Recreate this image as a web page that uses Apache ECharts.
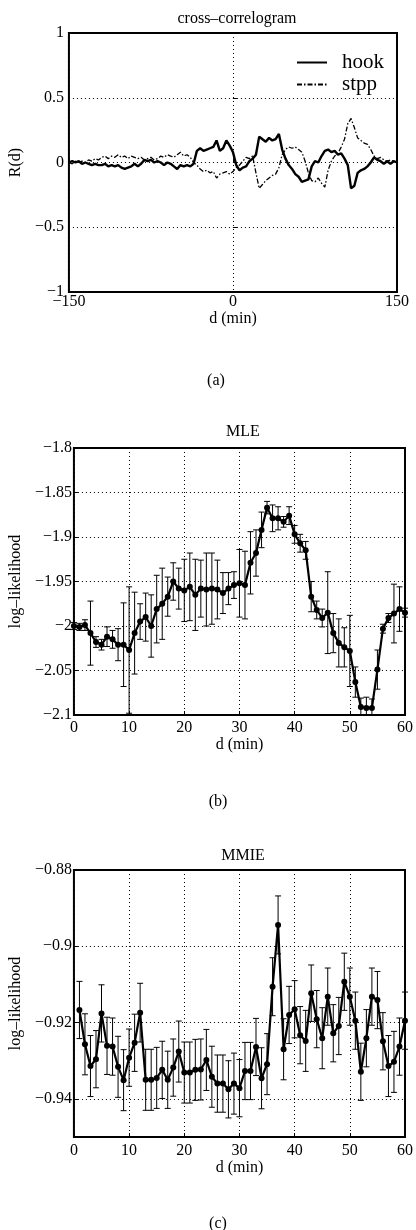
<!DOCTYPE html>
<html><head><meta charset="utf-8">
<script src="https://cdn.jsdelivr.net/npm/echarts@6/dist/echarts.min.js"></script>
<style>html,body{margin:0;padding:0;background:#fff}#c{width:416px;height:1230px}</style>
</head><body><div id="c"></div>
<script>
// ---------- panel (a) cross-correlogram, lag step 3 min from -150 to 150 ----------
const lagStart = -150, lagStep = 3;
const hookR = [0.00,0.01,0.00,0.01,-0.01,0.00,-0.01,-0.02,-0.01,-0.02,
  -0.02,-0.01,-0.03,-0.02,-0.03,-0.02,-0.04,-0.05,-0.04,-0.03,
  -0.01,-0.03,-0.01,0.02,0.01,0.02,0.00,0.01,0.00,-0.02,
  0.00,-0.01,-0.03,-0.05,-0.02,-0.03,-0.02,-0.03,-0.01,0.09,
  0.11,0.09,0.10,0.11,0.12,0.17,0.09,0.11,0.17,0.13,
  0.08,-0.02,-0.06,-0.04,-0.03,0.01,0.03,0.06,0.20,0.18,
  0.16,0.19,0.17,0.18,0.22,0.10,0.03,-0.02,-0.05,-0.09,
  -0.11,-0.15,-0.14,-0.13,-0.03,0.01,0.00,0.05,0.09,0.10,
  0.08,0.09,0.06,0.07,0.03,-0.02,-0.20,-0.18,-0.08,-0.06,
  -0.05,-0.03,0.00,0.04,0.02,0.01,-0.01,0.01,-0.01,0.01,0.00];
const stppR = [0.00,-0.01,0.01,0.00,0.01,0.00,0.02,0.01,0.03,0.02,
  0.04,0.05,0.03,0.05,0.04,0.06,0.04,0.05,0.03,0.05,
  0.04,0.03,0.04,0.02,0.03,0.04,0.02,0.03,0.05,0.04,
  0.06,0.05,0.04,0.06,0.08,0.05,0.06,0.04,0.00,-0.02,
  -0.05,-0.07,-0.06,-0.08,-0.07,-0.12,-0.09,-0.08,-0.07,-0.09,
  -0.07,-0.04,-0.02,0.01,0.04,0.03,0.05,-0.08,-0.20,-0.17,
  -0.14,-0.12,-0.10,-0.09,-0.04,0.06,0.10,0.12,0.11,0.12,
  0.10,0.08,0.01,-0.08,-0.14,-0.15,-0.12,-0.16,-0.19,-0.06,
  0.01,0.05,0.07,0.12,0.18,0.30,0.34,0.27,0.19,0.17,
  0.15,0.14,0.10,0.05,0.03,0.04,0.02,0.01,0.02,0.01,0.00];

// ---------- panel (b) MLE, d = 0..60 ----------
const mleStart = 0;
const mleV = [-2.000,-2.001,-1.999,-2.008,-2.018,-2.021,-2.012,-2.015,-2.021,-2.021,
  -2.027,-2.008,-1.995,-1.990,-2.000,-1.981,-1.975,-1.967,-1.950,-1.958,
  -1.960,-1.956,-1.965,-1.958,-1.959,-1.958,-1.959,-1.963,-1.958,-1.954,
  -1.952,-1.954,-1.929,-1.918,-1.892,-1.867,-1.879,-1.879,-1.883,-1.876,
  -1.897,-1.907,-1.915,-1.967,-1.982,-1.991,-1.985,-2.008,-2.019,-2.024,
  -2.028,-2.063,-2.091,-2.092,-2.092,-2.049,-2.003,-1.991,-1.986,-1.981,-1.985];
const mleE = [0.004,0.004,0.006,0.036,0.006,0.006,0.011,0.010,0.018,0.047,
  0.071,0.046,0.020,0.027,0.035,0.038,0.040,0.022,0.021,0.023,
  0.035,0.038,0.040,0.032,0.041,0.040,0.033,0.023,0.018,0.015,
  0.038,0.038,0.035,0.026,0.020,0.007,0.015,0.013,0.006,0.010,
  0.010,0.010,0.010,0.017,0.010,0.010,0.046,0.022,0.027,0.022,
  0.040,0.017,0.010,0.012,0.010,0.022,0.005,0.005,0.033,0.025,0.005];

// ---------- panel (c) MMIE, d = 1..60 ----------
const mmieStart = 1;
const mmieV = [-0.9167,-0.9257,-0.9314,-0.9296,-0.9176,-0.9261,-0.9263,-0.9316,-0.9351,-0.9292,
  -0.9253,-0.9174,-0.9350,-0.9350,-0.9345,-0.9324,-0.9350,-0.9318,-0.9276,-0.9331,
  -0.9331,-0.9324,-0.9323,-0.9298,-0.9342,-0.9360,-0.9360,-0.9375,-0.9360,-0.9372,
  -0.9327,-0.9327,-0.9264,-0.9346,-0.9309,-0.9106,-0.8944,-0.9270,-0.9180,-0.9165,
  -0.9233,-0.9248,-0.9123,-0.9191,-0.9241,-0.9132,-0.9228,-0.9209,-0.9093,-0.9132,
  -0.9195,-0.9329,-0.9241,-0.9132,-0.9141,-0.9249,-0.9314,-0.9303,-0.9263,-0.9195];
const mmieE = [0.0075,0.0080,0.0080,0.0075,0.0075,0.0075,0.0075,0.0080,0.0080,0.0075,
  0.0075,0.0077,0.0080,0.0080,0.0080,0.0075,0.0075,0.0075,0.0080,0.0080,
  0.0080,0.0080,0.0080,0.0080,0.0080,0.0075,0.0075,0.0075,0.0080,0.0075,
  0.0075,0.0075,0.0075,0.0080,0.0080,0.0076,0.0076,0.0080,0.0075,0.0075,
  0.0075,0.0080,0.0074,0.0075,0.0080,0.0075,0.0075,0.0075,0.0075,0.0075,
  0.0075,0.0075,0.0075,0.0075,0.0075,0.0075,0.0080,0.0080,0.0075,0.0075];
const mmieYTicks = [-0.94, -0.92, -0.9, -0.88];

// ---------- build ----------
function seq(start, step, n){ const a=[]; for(let i=0;i<n;i++) a.push(start+i*step); return a; }
const lagA = seq(lagStart, lagStep, hookR.length);
const mleD = seq(mleStart, 1, mleV.length);
const mmieD = seq(mmieStart, 1, mmieV.length);

const FONT = 'Liberation Serif';
const minus = v => String(+(+v).toFixed(4)).replace('-', '\u2212');

function errData(d, v, e){ return d.map((x,i)=>[x, v[i]-e[i], v[i]+e[i]]); }
function errRender(params, api){
  const cs = params.coordSys;
  const x = api.value(0);
  const lo = api.coord([x, api.value(1)]);
  const hi = api.coord([x, api.value(2)]);
  const clamp = y => Math.max(cs.y, Math.min(cs.y + cs.height, y));
  const y1 = clamp(lo[1]), y2 = clamp(hi[1]);
  const w = 3;
  const st = {stroke:'#000', lineWidth:1};
  const kids = [{type:'line', shape:{x1:lo[0], y1:y1, x2:lo[0], y2:y2}, style:st}];
  if (lo[1] <= cs.y + cs.height) kids.push({type:'line', shape:{x1:lo[0]-w, y1:lo[1], x2:lo[0]+w, y2:lo[1]}, style:st});
  if (hi[1] >= cs.y) kids.push({type:'line', shape:{x1:hi[0]-w, y1:hi[1], x2:hi[0]+w, y2:hi[1]}, style:st});
  return {type:'group', children:kids};
}

const grids = [
  {left:68, right:19, top:33, height:259},
  {left:70, right:10, top:448, height:267},
  {left:71, right:9, top:870, height:267}
].map(g => Object.assign({show:true, borderColor:'#000', borderWidth:2, backgroundColor:'transparent'}, g));

const axisCommon = {
  axisLine:{show:false},
  axisTick:{show:true, inside:true, length:4, lineStyle:{color:'#000'}},
  splitLine:{show:true, lineStyle:{color:'#000', type:[1,3], width:1}},
  nameTextStyle:{fontFamily:FONT, fontSize:16, color:'#000'},
  nameLocation:'middle'
};
const lab = (m, extra) => Object.assign({fontFamily:FONT, fontSize:16, color:'#000', margin:m, formatter:minus}, extra||{});

const xAxes = [
  Object.assign({}, axisCommon, {gridIndex:0, type:'value', min:-150, max:150, interval:150, name:'d (min)', nameGap:19, axisLabel:lab(2)}),
  Object.assign({}, axisCommon, {gridIndex:1, type:'value', min:0, max:60, interval:10, name:'d (min)', nameGap:22, axisLabel:lab(5)}),
  Object.assign({}, axisCommon, {gridIndex:2, type:'value', min:0, max:60, interval:10, name:'d (min)', nameGap:21, axisLabel:lab(6)})
];
const yAxes = [
  Object.assign({}, axisCommon, {gridIndex:0, type:'value', min:-1, max:1, interval:0.5, name:'R(d)', nameGap:35, axisLabel:lab(5)}),
  Object.assign({}, axisCommon, {gridIndex:1, type:'value', min:-2.1, max:-1.8, interval:0.05, name:'log\u2013likelihood', nameGap:46, axisLabel:lab(2)}),
  Object.assign({}, axisCommon, {gridIndex:2, type:'value', min:-0.95, max:-0.88, name:'log\u2013likelihood', nameGap:46,
    axisTick:{show:true, inside:true, length:4, lineStyle:{color:'#000'}, customValues:mmieYTicks},
    axisLabel:lab(2, {customValues:mmieYTicks})})
];

const titleStyle = {fontFamily:FONT, fontSize:16, fontWeight:'normal', color:'#000'};
const option = {
  animation:false,
  backgroundColor:'#fff',
  title:[
    {text:'cross\u2013correlogram', left:232, top:6, textAlign:'center', textStyle:titleStyle},
    {text:'MLE', left:238, top:419, textAlign:'center', textStyle:titleStyle},
    {text:'MMIE', left:238, top:843, textAlign:'center', textStyle:titleStyle},
    {text:'(a)', left:211, top:368, textAlign:'center', textStyle:titleStyle},
    {text:'(b)', left:213, top:789, textAlign:'center', textStyle:titleStyle},
    {text:'(c)', left:213, top:1211, textAlign:'center', textStyle:titleStyle}
  ],
  legend:{data:['hook','stpp'], orient:'vertical', left:291, top:47, itemWidth:30, itemHeight:12, itemGap:1,
    itemStyle:{opacity:0},
    textStyle:{fontFamily:FONT, fontSize:21, lineHeight:16, color:'#000', padding:[0,0,0,10]}},
  grid:grids,
  xAxis:xAxes,
  yAxis:yAxes,
  series:[
    {name:'hook', type:'line', xAxisIndex:0, yAxisIndex:0, data:lagA.map((d,i)=>[d,hookR[i]]), symbol:'none',
      lineStyle:{color:'#000', width:2.4}, itemStyle:{color:'#000'}},
    {name:'stpp', type:'line', xAxisIndex:0, yAxisIndex:0, data:lagA.map((d,i)=>[d,stppR[i]]), symbol:'none',
      lineStyle:{color:'#000', width:1.3, type:[5,2,1.5,2]}, itemStyle:{color:'#000'}},
    {type:'custom', xAxisIndex:1, yAxisIndex:1, data:errData(mleD, mleV, mleE), renderItem:errRender, encode:{x:0, y:[1,2]}, z:3},
    {type:'line', xAxisIndex:1, yAxisIndex:1, data:mleD.map((d,i)=>[d,mleV[i]]), symbol:'circle', symbolSize:6,
      lineStyle:{color:'#000', width:2.2}, itemStyle:{color:'#000'}, z:4},
    {type:'custom', xAxisIndex:2, yAxisIndex:2, data:errData(mmieD, mmieV, mmieE), renderItem:errRender, encode:{x:0, y:[1,2]}, z:3},
    {type:'line', xAxisIndex:2, yAxisIndex:2, data:mmieD.map((d,i)=>[d,mmieV[i]]), symbol:'circle', symbolSize:6,
      lineStyle:{color:'#000', width:2.2}, itemStyle:{color:'#000'}, z:4}
  ]
};
echarts.init(document.getElementById('c'), null, {renderer:'canvas'}).setOption(option);
</script></body></html>
